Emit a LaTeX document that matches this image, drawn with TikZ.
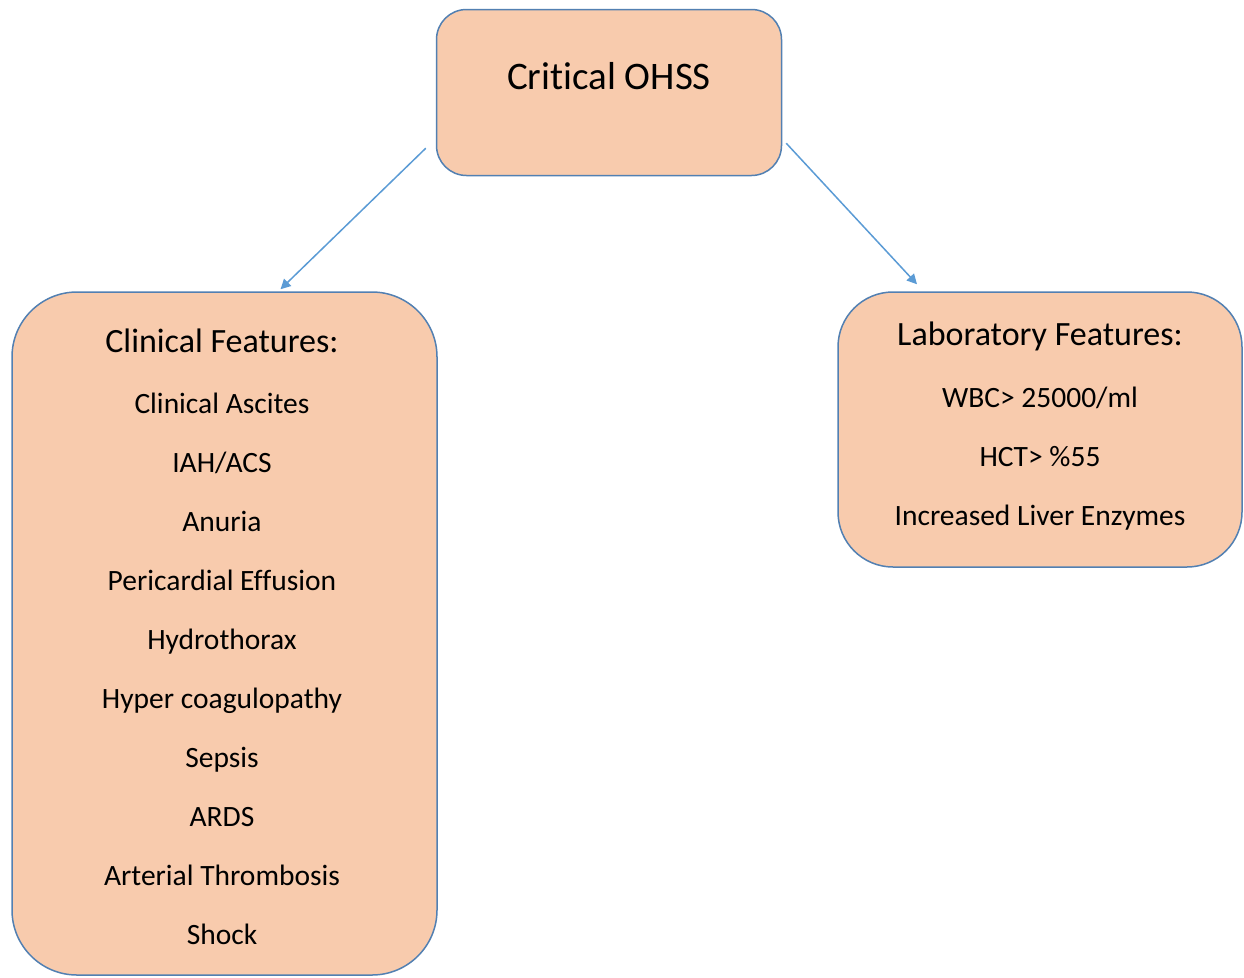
\documentclass[tikz,border=0pt]{standalone}
\usepackage{fontspec}
\setmainfont[Ligatures=CommonOff]{Carlito}
\usepackage{xcolor}
\usetikzlibrary{arrows.meta, positioning}

\definecolor{boxfill}{HTML}{F8CBAD}
\definecolor{boxline}{HTML}{5280B2}
\definecolor{arrowblue}{HTML}{5B9BD5}

\begin{document}
\begin{tikzpicture}[x=1pt, y=-1pt,
    featbox/.style={draw=boxline, line width=1.5pt, fill=boxfill, inner sep=0pt},
    link/.style={-{Triangle[length=10pt, width=10pt]}, draw=arrowblue, line width=1.5pt},
    item/.style={font=\fontsize{29.5}{35}\selectfont, inner sep=0pt, anchor=base}]

    \useasboundingbox (0,0) rectangle (1244,977);

    % Top box
    \node[featbox, rounded corners=30pt, minimum width=345pt, minimum height=166pt] (crit) at (609,92.5) {};
    \node[font=\fontsize{39}{47}\selectfont, inner sep=0pt, anchor=base] (crittitle) at (609,89) {Critical OHSS};

    % Clinical features box
    \node[featbox, rounded corners=65pt, minimum width=425pt, minimum height=683pt] (clin) at (224.5,633.5) {};
    \node[font=\fontsize{34}{41}\selectfont, inner sep=0pt, anchor=base] (clinhead) at (222,352) {Clinical Features:};
    \foreach \txt [count=\i] in {Clinical Ascites, IAH/ACS, Anuria, Pericardial Effusion,
        Hydrothorax, Hyper coagulopathy, Sepsis, ARDS, Arterial Thrombosis, Shock}
        \node[item] (clin\i) at (222, {354.3+58.97*\i}) {\txt};

    % Laboratory features box
    \node[featbox, rounded corners=55pt, minimum width=404pt, minimum height=275pt] (lab) at (1040,429.5) {};
    \node[font=\fontsize{34}{41}\selectfont, inner sep=0pt, anchor=base] (labhead) at (1040,345) {Laboratory Features:};
    \foreach \txt [count=\i] in {WBC> 25000/ml, HCT> \%55, Increased Liver Enzymes}
        \node[item] (lab\i) at (1040, {348.7+59*\i}) {\txt};

    % Arrows
    \draw[link] ([xshift=-10pt, yshift=28pt]crit.south west) -- ([xshift=56pt, yshift=2pt]clin.north);
    \draw[link] ([xshift=4pt, yshift=33pt]crit.south east) -- ([xshift=-123pt, yshift=7pt]lab.north);

\end{tikzpicture}
\end{document}
